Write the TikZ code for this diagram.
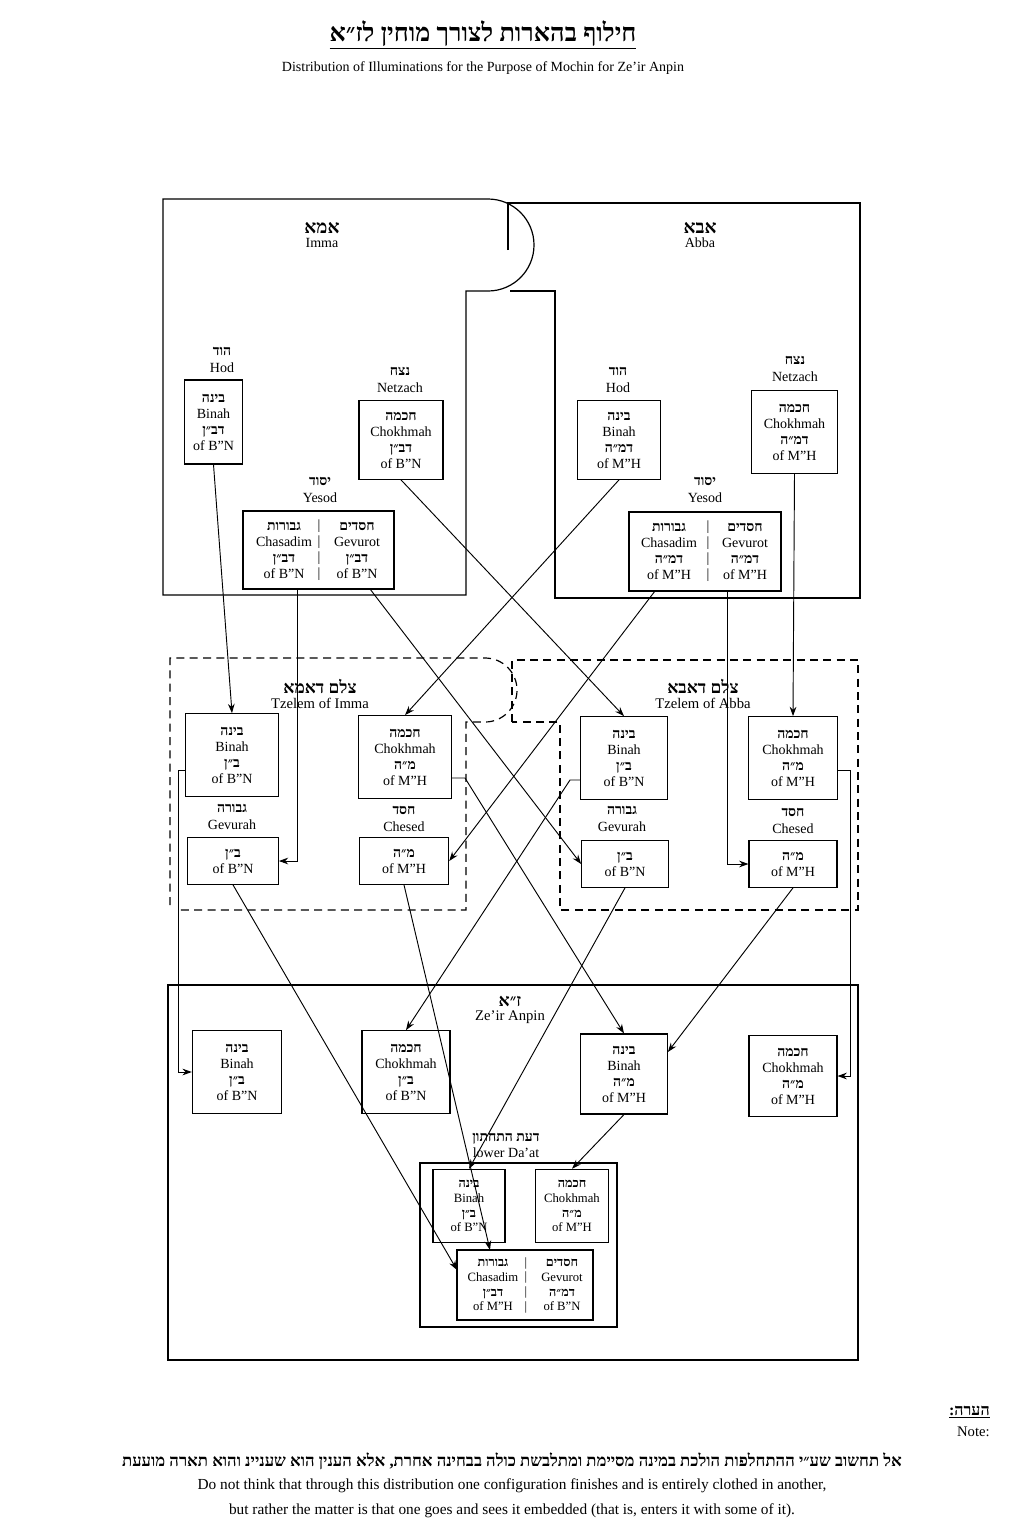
\documentclass[tikz,border=0pt]{standalone}
\usepackage{fontspec}
\setmainfont{Liberation Serif}
\newfontfamily\hebfont{Liberation Serif}
\usetikzlibrary{arrows.meta}
\TeXXeTstate=1
\newcommand{\heb}[1]{{\hebfont\bfseries\beginR #1\endR}}
\begin{document}
\begin{tikzpicture}[x=0.75pt,y=-0.75pt,
  every node/.style={inner sep=0pt,align=center,font=\fontsize{10.5}{12}\selectfont},
  box/.style={draw,line width=0.8pt},
  lbl/.style={font=\fontsize{10.5}{12.5}\selectfont},
  arr/.style={-{Stealth[length=7pt,width=5pt]},line width=0.7pt},
  reg/.style={line width=0.9pt},
  dreg/.style={line width=0.9pt,dash pattern=on 6pt off 4pt}]
\useasboundingbox (0,0) rectangle (1024,1536);
% title
\node (title) at (483,35) {\fontsize{19}{22}\selectfont\underline{\heb{חילוף בהארות לצורך מוחין לז״א}}};
\node (sub) at (483,68) {\fontsize{10.5}{12}\selectfont Distribution of Illuminations for the Purpose of Mochin for Ze'ir Anpin};
% regions
\draw[reg] (488,199) -- (163,199) -- (163,595) -- (466,595) -- (466,291) -- (488,291) arc(90:-90:46);
\draw[reg] (508,250) -- (508,203) -- (860,203) -- (860,598) -- (555,598) -- (555,291) -- (510,291);
\node (imma) at (322,235) {\fontsize{14}{16}\selectfont\heb{אמא}\\[-1pt] Imma};
\node (abba) at (700,235) {\fontsize{14}{16}\selectfont\heb{אבא}\\[-1pt] Abba};
\draw[dreg] (170,905) -- (170,658) -- (485,658) arc(-90:90:32) -- (466,722) -- (466,910) -- (178,910);
\draw[dreg] (512,722) -- (512,660) -- (858,660) -- (858,910) -- (560,910) -- (560,722) -- cycle;
\node (tzi) at (320,694) {\fontsize{13}{14}\selectfont\heb{צלם דאמא}\\[-1pt]\fontsize{11}{12}\selectfont Tzelem of Imma};
\node (tza) at (703,694) {\fontsize{13}{14}\selectfont\heb{צלם דאבא}\\[-1pt]\fontsize{11}{12}\selectfont Tzelem of Abba};
\draw[reg] (168,985) rectangle (858,1360);
\node (za) at (510,1010) {\fontsize{13}{14}\selectfont\heb{ז״א}\\[-1pt]\fontsize{11}{12}\selectfont Ze'ir Anpin};
\draw[reg] (420,1163) rectangle (617,1327);
\node (daat) at (506,1145) {\heb{דעת התחתון}\\ lower Da'at};
% Imma sefirot
\node[lbl] at (222,360) {\heb{הוד}\\ Hod};
\node[box,minimum width=43pt,minimum height=63pt] (iB) at (213.5,422) {\heb{בינה}\\ Binah\\ \heb{דב״ן}\\ of B"N};
\node[lbl] at (400,380) {\heb{נצח}\\ Netzach};
\node[box,minimum width=63pt,minimum height=59pt] (iC) at (401,440) {\heb{חכמה}\\ Chokhmah\\ \heb{דב״ן}\\ of B"N};
\node[lbl] at (320,490) {\heb{יסוד}\\ Yesod};
\draw[box] (243,511) rectangle (394,589);
\node (iYl) at (284,550) {\heb{גבורות}\\ Chasadim\\ \heb{דב״ן}\\ of B"N};
\node (iYs) at (319,550) {|\\|\\|\\|};
\node (iYr) at (357,550) {\heb{חסדים}\\ Gevurot\\ \heb{דב״ן}\\ of B"N};
\coordinate (iYL) at (297,589); \coordinate (iYR) at (370,589);
% Abba sefirot
\node[lbl] at (618,380) {\heb{הוד}\\ Hod};
\node[box,minimum width=62pt,minimum height=59pt] (aB) at (619,440) {\heb{בינה}\\ Binah\\ \heb{דמ״ה}\\ of M"H};
\node[lbl] at (795,369) {\heb{נצח}\\ Netzach};
\node[box,minimum width=64pt,minimum height=62pt] (aC) at (794.5,432) {\heb{חכמה}\\ Chokhmah\\ \heb{דמ״ה}\\ of M"H};
\node[lbl] at (705,490) {\heb{יסוד}\\ Yesod};
\draw[box] (629,512) rectangle (781,591);
\node (aYl) at (669,551) {\heb{גבורות}\\ Chasadim\\ \heb{דמ״ה}\\ of M"H};
\node (aYs) at (708,551) {|\\|\\|\\|};
\node (aYr) at (745,551) {\heb{חסדים}\\ Gevurot\\ \heb{דמ״ה}\\ of M"H};
\coordinate (aYL) at (655,591); \coordinate (aYR) at (727,591);
% Tzelem Imma
\node[box,minimum width=70pt,minimum height=62pt] (tiB) at (232,755) {\heb{בינה}\\ Binah\\ \heb{ב״ן}\\ of B"N};
\node[box,minimum width=70pt,minimum height=62pt] (tiC) at (405,757) {\heb{חכמה}\\ Chokhmah\\ \heb{מ״ה}\\ of M"H};
\node[lbl] at (232,817) {\heb{גבורה}\\ Gevurah};
\node[box,minimum width=68pt,minimum height=35pt] (tiG) at (233,861) {\heb{ב״ן}\\ of B"N};
\node[lbl] at (404,819) {\heb{חסד}\\ Chesed};
\node[box,minimum width=67pt,minimum height=35pt] (tiH) at (404,861) {\heb{מ״ה}\\ of M"H};
% Tzelem Abba
\node[box,minimum width=65pt,minimum height=62pt] (taB) at (624,758) {\heb{בינה}\\ Binah\\ \heb{ב״ן}\\ of B"N};
\node[box,minimum width=67pt,minimum height=62pt] (taC) at (793,758) {\heb{חכמה}\\ Chokhmah\\ \heb{מ״ה}\\ of M"H};
\node[lbl] at (622,819) {\heb{גבורה}\\ Gevurah};
\node[box,minimum width=65pt,minimum height=35pt] (taG) at (625,864) {\heb{ב״ן}\\ of B"N};
\node[lbl] at (793,821) {\heb{חסד}\\ Chesed};
\node[box,minimum width=66pt,minimum height=35pt] (taH) at (793,864) {\heb{מ״ה}\\ of M"H};
% ZA
\node[box,minimum width=67pt,minimum height=62pt] (zB) at (237,1072) {\heb{בינה}\\ Binah\\ \heb{ב״ן}\\ of B"N};
\node[box,minimum width=66pt,minimum height=62pt] (zC) at (406,1072) {\heb{חכמה}\\ Chokhmah\\ \heb{ב״ן}\\ of B"N};
\node[box,minimum width=65pt,minimum height=60pt] (zB2) at (624,1074) {\heb{בינה}\\ Binah\\ \heb{מ״ה}\\ of M"H};
\node[box,minimum width=66pt,minimum height=61pt] (zC2) at (793,1076) {\heb{חכמה}\\ Chokhmah\\ \heb{מ״ה}\\ of M"H};
% Daat
\node[box,minimum width=54pt,minimum height=55pt,font=\fontsize{9.5}{11}\selectfont] (dB) at (469,1206) {\heb{בינה}\\ Binah\\ \heb{ב״ן}\\ of B"N};
\node[box,minimum width=55pt,minimum height=55pt,font=\fontsize{9.5}{11}\selectfont] (dC) at (572,1206) {\heb{חכמה}\\ Chokhmah\\ \heb{מ״ה}\\ of M"H};
\draw[box] (457,1250) rectangle (593,1320);
\node[font=\fontsize{9.5}{11}\selectfont] (dl) at (493,1285) {\heb{גבורות}\\ Chasadim\\ \heb{דב״ן}\\ of M"H};
\node[font=\fontsize{9.5}{11}\selectfont] (ds) at (526,1285) {|\\|\\|\\|};
\node[font=\fontsize{9.5}{11}\selectfont] (dr) at (562,1285) {\heb{חסדים}\\ Gevurot\\ \heb{דמ״ה}\\ of B"N};
\coordinate (dGL) at (457,1270); \coordinate (dGT) at (490,1250);
% arrows
\draw[arr] (iB.south) -- (tiB.north);
\draw[arr] (iYL) -- (297,861) -- (tiG.east);
\draw[arr] (iYR) -- (taG.west);
\draw[arr] (iC.south) -- (taB.north);
\draw[arr] (aB.south) -- (tiC.north);
\draw[arr] (aYL) -- (tiH.east);
\draw[arr] (aYR) -- (727,864) -- (taH.west);
\draw[arr] (aC.south) -- (taC.north);
\draw[arr] (tiB.west |- 0,770) -- (178,770) -- (178,1072) -- (zB.west);
\draw[arr] (tiG.south) -- (dGL);
\draw[arr] (tiH.south) -- (dGT);
\draw[arr] (tiC.east |- 0,778) -- (465,778) -- (zB2.north);
\draw[arr] (taB.west |- 0,780) -- (570,780) -- (zC.north);
\draw[arr] (taG.south) -- (dB.north);
\draw[arr] (taH.south) -- (zB2.east |- 0,1052);
\draw[arr] (taC.east |- 0,770) -- (850,770) -- (850,1076) -- (zC2.east);
\draw[arr] (zB2.south) -- (dC.north);
% note
\node[anchor=east] (nh) at (990,1412) {\fontsize{12}{14}\selectfont\underline{\heb{הערה:}}};
\node[anchor=east] (ne) at (990,1432) {\fontsize{11}{13}\selectfont Note:};
\node (n1) at (512,1461) {\fontsize{12.5}{14}\selectfont\heb{אל תחשוב שע״י ההתחלפות הולכת במינה מסיימת ומתלבשת כולה בבחינה אחרת, אלא הענין הוא שעניינ והוא תארה מועעת}};
\node (n2) at (512,1486) {\fontsize{11.5}{13}\selectfont Do not think that through this distribution one configuration finishes and is entirely clothed in another,};
\node (n3) at (512,1511) {\fontsize{11.5}{13}\selectfont but rather the matter is that one goes and sees it embedded (that is, enters it with some of it).};
\end{tikzpicture}
\end{document}
